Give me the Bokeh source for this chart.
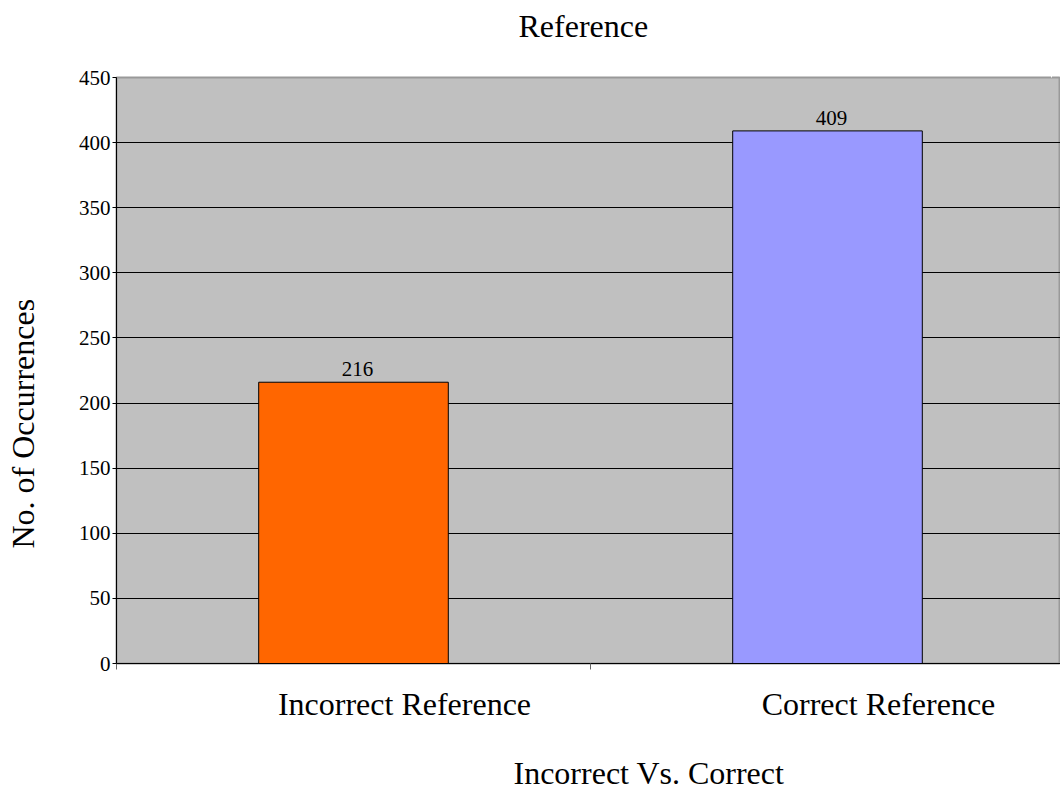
from bokeh.plotting import figure
from bokeh.models import FixedTicker, Range1d, ColumnDataSource, LabelSet, Title, LinearAxis
from bokeh.embed import file_html
from bokeh.resources import INLINE

categories = ["Incorrect Reference", "Correct Reference"]
counts = [216, 409]
colors = ["#FF6600", "#9999FF"]
y_ticks = [0, 50, 100, 150, 200, 250, 300, 350, 400, 450]
title_text = "Reference"
x_title = "Incorrect Vs. Correct"
y_title = "No. of Occurrences"

FONT = "Liberation Serif"

W, H = 1060, 792
LEFT, TOP, BOTTOM = 116, 77, 129
frame_w = W - LEFT
x_end = len(categories) * frame_w / 948
px_per_unit = frame_w / x_end
label_shift = 51 / px_per_unit

xs = [i + 0.5 for i in range(len(categories))]
src = ColumnDataSource(dict(x=xs, top=counts, color=colors,
                            lbl=[str(c) for c in counts], cat=categories))

p = figure(width=W, height=H, output_backend="svg", toolbar_location=None,
           x_range=Range1d(0, x_end), y_range=Range1d(0, 450),
           min_border_left=LEFT, min_border_right=0, min_border_top=TOP,
           min_border_bottom=BOTTOM)

p.background_fill_color = "#C0C0C0"
p.border_fill_color = "white"
p.outline_line_color = "#999999"
p.outline_line_width = 2

p.vbar(x="x", top="top", width=0.4, bottom=0, source=src,
       fill_color="color", line_color="black", line_width=1)

labels = LabelSet(x="x", y="top", text="lbl", source=src, text_align="center",
                  text_baseline="alphabetic", x_offset=4, y_offset=6, text_font=FONT,
                  text_font_size="21px", text_color="black")
p.add_layout(labels)

p.title.text = ""


def spacer_axis(size, at):
    # invisible axis (white tick on white border, empty label) reserving space in a side panel
    return LinearAxis(ticker=FixedTicker(ticks=[at]), major_label_overrides={at: ""},
                      axis_line_color=None,
                      major_tick_in=0, major_tick_out=size, major_tick_line_color="white",
                      minor_tick_in=0, minor_tick_out=0, minor_tick_line_color=None,
                      major_label_standoff=0, major_label_text_font_size="1px")


# y axis
p.yaxis.ticker = FixedTicker(ticks=y_ticks)
p.yaxis.major_label_text_font = FONT
p.yaxis.major_label_text_font_size = "21px"
p.yaxis.major_label_text_color = "black"
p.yaxis.major_label_standoff = 2
p.yaxis.major_tick_in = 0
p.yaxis.major_tick_out = 4
p.yaxis.minor_tick_line_color = None
p.yaxis.axis_line_color = "black"

# x axis (labels sit slightly right of the category centres, as in the original)
label_pos = [x + label_shift for x in xs]
p.xaxis.ticker = FixedTicker(ticks=label_pos, minor_ticks=[float(i) for i in range(len(categories) + 1)])
p.xaxis.major_label_overrides = {x: c for x, c in zip(label_pos, categories)}
p.xaxis.major_label_text_font = FONT
p.xaxis.major_label_text_font_size = "32px"
p.xaxis.major_label_text_color = "black"
p.xaxis.major_label_standoff = 16
p.xaxis.major_tick_in = 0
p.xaxis.major_tick_out = 0
p.xaxis.minor_tick_in = 0
p.xaxis.minor_tick_out = 6
p.xaxis.minor_tick_line_color = "#666666"
p.xaxis.axis_line_color = "black"

# main title
p.add_layout(spacer_axis(32, x_end * 0.99), "above")
p.add_layout(Title(text=title_text, align="left", offset=402, standoff=4,
                   text_font=FONT, text_font_size="32px", text_font_style="normal",
                   text_color="black"), "above")

# axis titles as side titles
p.add_layout(spacer_axis(28, x_end * 0.99), "below")
p.add_layout(Title(text=x_title, align="left", offset=397, standoff=0,
                   text_font=FONT, text_font_size="32px", text_font_style="normal",
                   text_color="black"), "below")
p.add_layout(spacer_axis(35, 5.0), "left")
p.add_layout(Title(text=y_title, align="left", offset=115, standoff=0,
                   text_font=FONT, text_font_size="32px", text_font_style="normal",
                   text_color="black"), "left")

p.xgrid.grid_line_color = None
p.ygrid.ticker = FixedTicker(ticks=y_ticks)
p.ygrid.grid_line_color = "black"
p.ygrid.grid_line_width = 1

open("out.html", "w").write(file_html(p, INLINE))
